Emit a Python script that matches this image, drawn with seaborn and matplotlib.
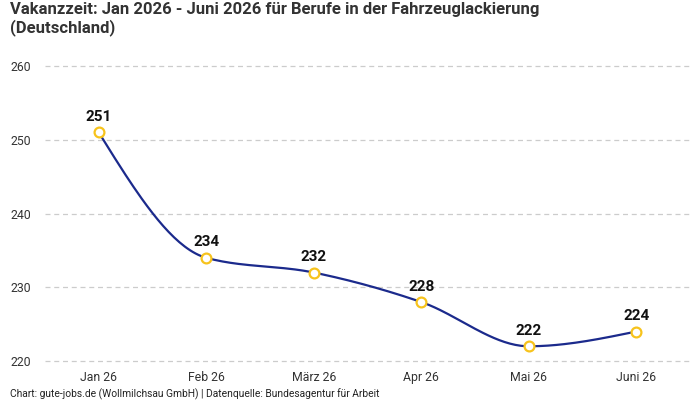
import numpy as np
import pandas as pd
import matplotlib
matplotlib.use("Agg")
import matplotlib.pyplot as plt
import seaborn as sns

months = ["Jan 26", "Feb 26", "März 26", "Apr 26", "Mai 26", "Juni 26"]
values = [251, 234, 232, 228, 222, 224]
y_ticks = [220, 230, 240, 250, 260]
title = "Vakanzzeit: Jan 2026 - Juni 2026 für Berufe in der Fahrzeuglackierung\n(Deutschland)"
footer = "Chart: gute-jobs.de (Wollmilchsau GmbH) | Datenquelle: Bundesagentur für Arbeit"

sns.set_theme(style="white")
plt.rcParams['font.family'] = ['Roboto', 'DejaVu Sans']

LINE = "#1b2a8c"
GOLD = "#f7c31c"


def monotone_cubic(x, y, n=40):
    x = np.asarray(x, float); y = np.asarray(y, float)
    h = np.diff(x); d = np.diff(y) / h
    m = np.zeros_like(y)
    for i in range(1, len(y) - 1):
        s0, s1 = d[i - 1], d[i]
        p = (s0 * h[i] + s1 * h[i - 1]) / (h[i - 1] + h[i])
        m[i] = (np.sign(s0) + np.sign(s1)) * min(abs(s0), abs(s1), 0.5 * abs(p))
    m[0] = (3 * d[0] - m[1]) / 2
    m[-1] = (3 * d[-1] - m[-2]) / 2
    xs, ys = [], []
    for i in range(len(x) - 1):
        t = np.linspace(0, 1, n, endpoint=(i == len(x) - 2))
        h00 = 2 * t**3 - 3 * t**2 + 1
        h10 = t**3 - 2 * t**2 + t
        h01 = -2 * t**3 + 3 * t**2
        h11 = t**3 - t**2
        xs.append(x[i] + t * h[i])
        ys.append(h00 * y[i] + h10 * h[i] * m[i] + h01 * y[i + 1] + h11 * h[i] * m[i + 1])
    return np.concatenate(xs), np.concatenate(ys)


pos = np.arange(len(months))
cx, cy = monotone_cubic(pos, values)
curve = pd.DataFrame({"x": cx, "y": cy})
pts = pd.DataFrame({"x": pos, "y": values})

fig = plt.figure(figsize=(7, 4), dpi=100)
ax = fig.add_axes([45 / 700, 1 - 365 / 400, (690 - 45) / 700, (365 - 55) / 400])

sns.lineplot(data=curve, x="x", y="y", ax=ax, color=LINE, linewidth=1.6, sort=False, zorder=3)
sns.scatterplot(data=pts, x="x", y="y", ax=ax, s=50, color="white", edgecolor=GOLD,
                linewidth=1.6, zorder=4)

for xi, v in zip(pos, values):
    ax.annotate(str(v), (xi, v), xytext=(0, 6), textcoords="offset points",
                ha="center", va="bottom", fontsize=11, fontweight="bold", color="#111111")

ax.set_xlim(-0.5, 5.5)
ax.set_ylim(219.46, 261.5)
ax.set_xticks(pos)
ax.set_xticklabels(months)
ax.set_yticks(y_ticks)
ax.set_xlabel("")
ax.set_ylabel("")
ax.tick_params(axis="both", labelsize=8.8, colors="#333333", length=0)
ax.tick_params(axis="x", pad=4)
ax.tick_params(axis="y", pad=10)
ax.grid(axis="y", color="#cccccc", linestyle=(0, (4, 3)), linewidth=0.9)
ax.grid(axis="x", visible=False)
for s in ax.spines.values():
    s.set_visible(False)

fig.text(10 / 700, 1 - 2 / 400, title, ha="left", va="top", fontsize=12,
         fontweight="bold", color="#333333", linespacing=1.15)
fig.text(10 / 700, 1 - 394 / 400, footer, ha="left", va="center", fontsize=7.4, color="#222222")

fig.savefig("out.png", dpi=100)
